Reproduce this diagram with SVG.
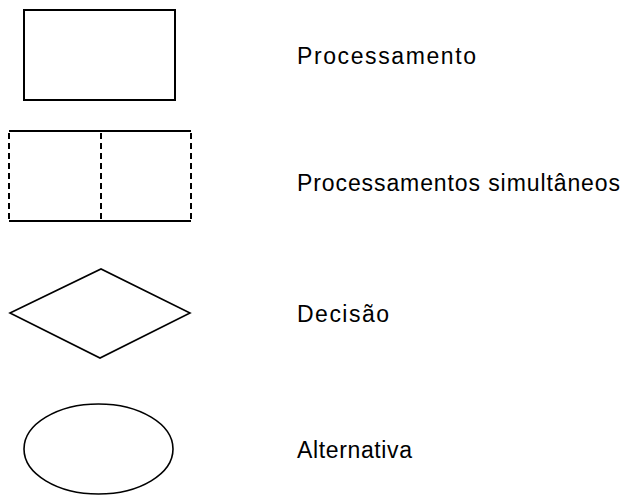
<svg xmlns="http://www.w3.org/2000/svg" width="630" height="495" viewBox="0 0 630 495">
<style>
.s{fill:none;stroke:#000;stroke-width:2}
.t{stroke-width:1.6}
.d{stroke-dasharray:6 4}
text{font-family:"Liberation Sans",Arial,sans-serif;font-size:23px;fill:#000}
</style>
<rect width="630" height="495" fill="#fff"/>
<g id="processamento">
<rect class="s" x="24" y="10" width="151" height="90"/>
<text x="297" y="64" textLength="179" lengthAdjust="spacing">Processamento</text>
</g>
<g id="simultaneos">
<line class="s" x1="9" y1="131" x2="191" y2="131"/>
<line class="s" x1="9" y1="221" x2="191" y2="221"/>
<line class="s d" x1="9" y1="133" x2="9" y2="219"/>
<line class="s d" x1="101" y1="133" x2="101" y2="219"/>
<line class="s d" x1="191" y1="133" x2="191" y2="219"/>
<text x="297" y="191" textLength="323" lengthAdjust="spacing">Processamentos simultâneos</text>
</g>
<g id="decisao">
<polygon class="s t" points="10,313 101,269 190,313 100,358"/>
<text x="297" y="322" textLength="92" lengthAdjust="spacing">Decisão</text>
</g>
<g id="alternativa">
<ellipse class="s t" cx="98.5" cy="449" rx="74.5" ry="45"/>
<text x="297" y="458" textLength="115" lengthAdjust="spacing">Alternativa</text>
</g>
<g id="connectors"/>
</svg>
